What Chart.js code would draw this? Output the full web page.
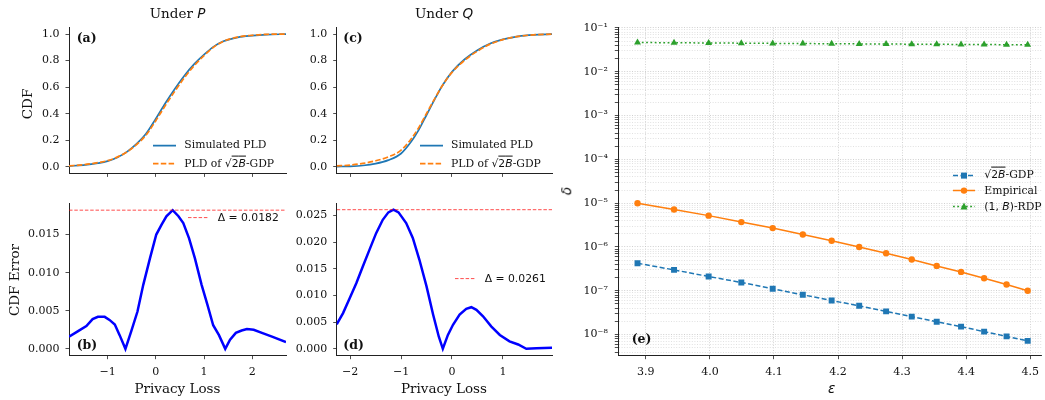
<!DOCTYPE html>
<html lang="en">
<head>
<meta charset="UTF-8">
<title>PLD CDF comparison</title>
<script src="https://cdn.jsdelivr.net/npm/chart.js@4.4.0/dist/chart.umd.min.js"></script>
<style>
  body { margin:0; background:white; font-family:"DejaVu Serif", serif; color:#111; }
  #fig { position:relative; width:1045px; height:400px; overflow:hidden; }
  .box { position:absolute; }
  .t { position:absolute; white-space:nowrap; transform:translate(-50%,-50%); line-height:1; font-size:13.5px; }
  .rot { transform:translate(-50%,-50%) rotate(-90deg); }
  .tag { position:absolute; font-weight:bold; font-size:12.5px; line-height:1; transform:translate(0,-50%); }
  .leg { position:absolute; font-size:10.8px; white-space:nowrap; line-height:1; transform:translate(0,-50%); display:flex; align-items:center; }
  .leg svg { display:block; }
  .m { font-family:"DejaVu Sans", sans-serif; }
  .ov { text-decoration:overline; }
</style>
</head>
<body>
<div id="fig">
  <div class="box" style="left:0;top:0"><canvas id="cA" width="290" height="186"></canvas></div>
  <div class="box" style="left:0;top:190px"><canvas id="cB" width="290" height="210"></canvas></div>
  <div class="box" style="left:290px;top:0"><canvas id="cC" width="265" height="186"></canvas></div>
  <div class="box" style="left:290px;top:190px"><canvas id="cD" width="265" height="210"></canvas></div>
  <div class="box" style="left:560px;top:0"><canvas id="cE" width="485" height="400"></canvas></div>

  <div class="t" style="left:177.5px;top:13.5px">Under <i class="m">P</i></div>
  <div class="t" style="left:444px;top:13.5px">Under <i class="m">Q</i></div>
  <div class="t rot" style="left:28px;top:104px">CDF</div>
  <div class="t rot" style="left:15px;top:280px">CDF Error</div>
  <div class="t rot m" style="left:567px;top:191px"><i>δ</i></div>
  <div class="t" style="left:177.5px;top:389px">Privacy Loss</div>
  <div class="t" style="left:444px;top:389px">Privacy Loss</div>
  <div class="t m" style="left:831.7px;top:389px"><i>ε</i></div>

  <div class="tag" style="left:76.7px;top:38.3px">(a)</div>
  <div class="tag" style="left:343.3px;top:38.3px">(c)</div>
  <div class="tag" style="left:76.7px;top:345px">(b)</div>
  <div class="tag" style="left:343.3px;top:345px">(d)</div>
  <div class="tag" style="left:631.7px;top:339px">(e)</div>

  <div class="leg" style="left:153.3px;top:145.3px"><svg width="23" height="10"><line x1="0" y1="5" x2="23" y2="5" stroke="#1f77b4" stroke-width="1.7"/></svg><span style="margin-left:8px">Simulated PLD</span></div>
  <div class="leg" style="left:153.3px;top:164px"><svg width="23" height="10"><line x1="0" y1="5" x2="23" y2="5" stroke="#ff7f0e" stroke-width="1.7" stroke-dasharray="5.5 2.3"/></svg><span style="margin-left:8px">PLD of <span class="m">√<span class="ov">2<i>B</i></span></span>-GDP</span></div>
  <div class="leg" style="left:420px;top:145.3px"><svg width="23" height="10"><line x1="0" y1="5" x2="23" y2="5" stroke="#1f77b4" stroke-width="1.7"/></svg><span style="margin-left:8px">Simulated PLD</span></div>
  <div class="leg" style="left:420px;top:164px"><svg width="23" height="10"><line x1="0" y1="5" x2="23" y2="5" stroke="#ff7f0e" stroke-width="1.7" stroke-dasharray="5.5 2.3"/></svg><span style="margin-left:8px">PLD of <span class="m">√<span class="ov">2<i>B</i></span></span>-GDP</span></div>
  <div class="leg m" style="left:187.7px;top:218px"><svg width="21" height="10"><line x1="0" y1="5" x2="21" y2="5" stroke="rgba(255,0,0,0.7)" stroke-width="1" stroke-dasharray="3.5 1.8"/></svg><span style="margin-left:9px">Δ = 0.0182</span></div>
  <div class="leg m" style="left:454.7px;top:278.7px"><svg width="21" height="10"><line x1="0" y1="5" x2="21" y2="5" stroke="rgba(255,0,0,0.7)" stroke-width="1" stroke-dasharray="3.5 1.8"/></svg><span style="margin-left:9px">Δ = 0.0261</span></div>

  <div class="leg" style="left:953.3px;top:175.3px"><svg width="22" height="10"><line x1="0" y1="5" x2="22" y2="5" stroke="#1f77b4" stroke-width="1.5" stroke-dasharray="5 2.5"/><rect x="8" y="2" width="6" height="6" fill="#1f77b4"/></svg><span style="margin-left:9px"><span class="m">√<span class="ov">2<i>B</i></span></span>-GDP</span></div>
  <div class="leg" style="left:953.3px;top:191px"><svg width="22" height="10"><line x1="0" y1="5" x2="22" y2="5" stroke="#ff7f0e" stroke-width="1.5"/><circle cx="11" cy="5" r="3.2" fill="#ff7f0e"/></svg><span style="margin-left:9px">Empirical</span></div>
  <div class="leg" style="left:953.3px;top:206.7px"><svg width="22" height="10"><line x1="0" y1="5" x2="22" y2="5" stroke="#2ca02c" stroke-width="1.5" stroke-dasharray="1.8 2.5"/><polygon points="11,1 14.5,8 7.5,8" fill="#2ca02c"/></svg><span style="margin-left:9px"><span class="m">(1, <i>B</i>)</span>-RDP</span></div>
</div>

<script>
// ---- data ----
// (a) CDF under P
const pX = [-1.8, -1.5, -1.2, -1.0, -0.8, -0.6, -0.4, -0.2, 0, 0.2, 0.4, 0.6, 0.8, 1.0, 1.2, 1.4, 1.7, 2.0, 2.3, 2.7];
const pSim = [0.005, 0.013, 0.027, 0.042, 0.07, 0.112, 0.172, 0.25, 0.362, 0.48, 0.59, 0.69, 0.775, 0.845, 0.905, 0.945, 0.975, 0.988, 0.996, 0.999];
const pGdp = [0.0066, 0.0158, 0.031, 0.046, 0.0725, 0.111, 0.1675, 0.2397, 0.347, 0.4628, 0.572, 0.6738, 0.763, 0.8375, 0.9018, 0.9447, 0.977, 0.9905, 0.9978, 0.9999];

// (c) CDF under Q
const qX = [-2.265, -2.0, -1.75, -1.5, -1.25, -1.0, -0.8, -0.65, -0.5, -0.35, -0.2, 0, 0.25, 0.5, 0.75, 1.0, 1.3, 1.6, 1.965];
const qSim = [0.0015, 0.0035, 0.0095, 0.0235, 0.05, 0.1, 0.19, 0.28, 0.39, 0.5, 0.605, 0.715, 0.81, 0.878, 0.928, 0.96, 0.983, 0.994, 0.999];
const qGdp = [0.006, 0.013, 0.025, 0.045, 0.075, 0.125, 0.211, 0.297, 0.402, 0.506, 0.605, 0.711, 0.803, 0.871, 0.924, 0.958, 0.982, 0.994, 0.999];

// (b) CDF error under P
const pErrX = [-1.8, -1.62, -1.44, -1.31, -1.2, -1.06, -0.96, -0.85, -0.75, -0.63, -0.51, -0.38, -0.26, -0.12, 0.01, 0.12, 0.22, 0.35, 0.47, 0.57, 0.69, 0.81, 0.95, 1.07, 1.19, 1.31, 1.44, 1.54, 1.66, 1.78, 1.89, 2.03, 2.2, 2.41, 2.7];
const pErr = [0.0016, 0.0023, 0.003, 0.0039, 0.0042, 0.0042, 0.0038, 0.0032, 0.0018, 0.0, 0.0023, 0.0049, 0.0084, 0.0119, 0.015, 0.0163, 0.0174, 0.0182, 0.0174, 0.0165, 0.0145, 0.0119, 0.0084, 0.0058, 0.0031, 0.0018, 0.0, 0.0012, 0.0021, 0.0024, 0.0026, 0.0025, 0.0021, 0.0016, 0.0009];
const pDelta = 0.0182;

// (d) CDF error under Q
const qErrX = [-2.265, -2.14, -2.01, -1.88, -1.75, -1.62, -1.49, -1.36, -1.25, -1.15, -1.05, -0.9, -0.77, -0.64, -0.5, -0.37, -0.26, -0.18, -0.08, 0.02, 0.15, 0.28, 0.38, 0.48, 0.61, 0.77, 0.94, 1.13, 1.3, 1.46, 1.66, 1.965];
const qErr = [0.0046, 0.0067, 0.0095, 0.0123, 0.0155, 0.0186, 0.0217, 0.0242, 0.0256, 0.0261, 0.0256, 0.0236, 0.0208, 0.0167, 0.0117, 0.0064, 0.0023, 0.0, 0.0026, 0.0045, 0.0064, 0.0075, 0.0078, 0.0073, 0.0061, 0.0042, 0.0026, 0.0014, 0.0008, 0.0, 0.0001, 0.0002];
const qDelta = 0.0261;

// (e) delta vs epsilon
const eps = [3.887, 3.944, 3.998, 4.049, 4.098, 4.145, 4.190, 4.233, 4.275, 4.315, 4.354, 4.392, 4.428, 4.463, 4.496];
const deltaGdp = [4.26e-7, 3.0e-7, 2.12e-7, 1.55e-7, 1.11e-7, 8.1e-8, 6.0e-8, 4.55e-8, 3.39e-8, 2.57e-8, 1.97e-8, 1.52e-8, 1.17e-8, 9.1e-9, 7.2e-9];
const deltaEmp = [1.0e-5, 7.2e-6, 5.2e-6, 3.7e-6, 2.7e-6, 1.93e-6, 1.39e-6, 1.0e-6, 7.2e-7, 5.2e-7, 3.7e-7, 2.7e-7, 1.93e-7, 1.39e-7, 1.0e-7];
const deltaRdp = [0.0466, 0.046, 0.0455, 0.045, 0.0445, 0.0441, 0.0437, 0.0433, 0.043, 0.0427, 0.0424, 0.0421, 0.0418, 0.0416, 0.0413];

// tick values
const xTicksP = [-1, 0, 1, 2];
const xTicksQ = [-2, -1, 0, 1];
const yTicksCdf = [0, 0.2, 0.4, 0.6, 0.8, 1.0];
const yTicksErrP = [0, 0.005, 0.010, 0.015];
const yTicksErrQ = [0, 0.005, 0.010, 0.015, 0.020, 0.025];
const xTicksE = [3.9, 4.0, 4.1, 4.2, 4.3, 4.4, 4.5];
const yExpE = [-9, -8, -7, -6, -5, -4, -3, -2, -1];
const minorMult = [1, 2, 3, 4, 5, 6, 7, 8, 9];

const BLUE = '#1f77b4', ORANGE = '#ff7f0e', GREEN = '#2ca02c';

Chart.defaults.font.family = '"DejaVu Serif", serif';
Chart.defaults.font.size = 11;
Chart.defaults.color = '#111';

const pts = (xs, ys) => xs.map((x, i) => ({ x: x, y: ys[i] }));
const minus = s => String(s).replace('-', '\u2212');
const SUP = { '-': '\u207b', '0': '\u2070', '1': '\u00b9', '2': '\u00b2', '3': '\u00b3', '4': '\u2074', '5': '\u2075', '6': '\u2076', '7': '\u2077', '8': '\u2078', '9': '\u2079' };

function panel(id, datasets, o) {
    return new Chart(document.getElementById(id), {
        type: 'line',
        data: { datasets: datasets },
        options: {
            animation: false,
            responsive: false,
            devicePixelRatio: 1,
            layout: { autoPadding: false, padding: { top: o.padT, right: o.padR, left: 0, bottom: 0 } },
            plugins: { legend: { display: false }, tooltip: { enabled: false } },
            elements: { point: { radius: 0 }, line: { borderCapStyle: 'butt' } },
            scales: {
                x: {
                    type: 'linear', min: o.xMin, max: o.xMax,
                    afterFit: s => { s.height = o.xH; },
                    afterBuildTicks: s => { s.ticks = o.xTicks.map(v => ({ value: v })); },
                    ticks: { display: o.xLabels, autoSkip: false, maxRotation: 0, padding: 6, callback: v => minus(v) },
                    grid: { drawOnChartArea: false, tickLength: 3.5, tickColor: '#222', tickWidth: 0.8 },
                    border: { color: '#222', width: 1 }
                },
                y: {
                    type: 'linear', min: o.yMin, max: o.yMax,
                    afterFit: s => { s.width = o.yW; },
                    afterBuildTicks: s => { s.ticks = o.yTicks.map(v => ({ value: v })); },
                    ticks: { autoSkip: false, padding: 6, callback: v => v.toFixed(o.yDec) },
                    grid: { drawOnChartArea: false, tickLength: 3.5, tickColor: '#222', tickWidth: 0.8 },
                    border: { color: '#222', width: 1 }
                }
            }
        }
    });
}

const cdfSets = (xs, sim, gdp) => [
    { label: 'PLD of sqrt(2B)-GDP', data: pts(xs, gdp), borderColor: ORANGE, borderWidth: 1.7, borderDash: [5.5, 2.3], cubicInterpolationMode: 'monotone' },
    { label: 'Simulated PLD', data: pts(xs, sim), borderColor: BLUE, borderWidth: 1.7, cubicInterpolationMode: 'monotone' }
];
const errSets = (xs, err, d, x0, x1, txt) => [
    { label: txt, data: pts([x0, x1], [d, d]), borderColor: 'rgba(255,0,0,0.7)', borderWidth: 1, borderDash: [3.5, 1.8] },
    { label: 'CDF error', data: pts(xs, err), borderColor: '#0000ff', borderWidth: 2.5, tension: 0 }
];

panel('cA', cdfSets(pX, pSim, pGdp), { padT: 27.4, padR: 4, xH: 6.4, yW: 69, xMin: -1.8, xMax: 2.7, yMin: -0.05, yMax: 1.05, xTicks: xTicksP, yTicks: yTicksCdf, yDec: 1, xLabels: false });
panel('cB', errSets(pErrX, pErr, pDelta, -1.8, 2.7, 'Δ = 0.0182'), { padT: 13.3, padR: 4, xH: 44.3, yW: 69, xMin: -1.8, xMax: 2.7, yMin: -0.0009, yMax: 0.0191, xTicks: xTicksP, yTicks: yTicksErrP, yDec: 3, xLabels: true });
panel('cC', cdfSets(qX, qSim, qGdp), { padT: 27.4, padR: 3, xH: 6.4, yW: 46.7, xMin: -2.265, xMax: 1.965, yMin: -0.05, yMax: 1.05, xTicks: xTicksQ, yTicks: yTicksCdf, yDec: 1, xLabels: false });
panel('cD', errSets(qErrX, qErr, qDelta, -2.265, 1.965, 'Δ = 0.0261'), { padT: 13.3, padR: 3, xH: 44.3, yW: 46.7, xMin: -2.265, xMax: 1.965, yMin: -0.0013, yMax: 0.0273, xTicks: xTicksQ, yTicks: yTicksErrQ, yDec: 3, xLabels: true });

// (e) log-scale panel
const yMinE = 3.3e-9, yMaxE = 0.102;
const yTicksE = [];
yExpE.forEach(e => minorMult.forEach(m => {
    const v = m * Math.pow(10, e);
    if (v >= yMinE && v <= yMaxE) yTicksE.push({ value: v, major: m === 1, exp: e });
}));

new Chart(document.getElementById('cE'), {
    type: 'line',
    data: {
        datasets: [
            { label: 'sqrt(2B)-GDP', data: pts(eps, deltaGdp), borderColor: BLUE, backgroundColor: BLUE, borderWidth: 1.5, borderDash: [5, 2.5],
              pointStyle: 'rect', pointRadius: 4.2, pointBorderWidth: 0, pointBackgroundColor: BLUE },
            { label: 'Empirical', data: pts(eps, deltaEmp), borderColor: ORANGE, backgroundColor: ORANGE, borderWidth: 1.5,
              pointStyle: 'circle', pointRadius: 3.2, pointBorderWidth: 0, pointBackgroundColor: ORANGE },
            { label: '(1, B)-RDP', data: pts(eps, deltaRdp), borderColor: GREEN, backgroundColor: GREEN, borderWidth: 1.5, borderDash: [1.8, 2.5],
              pointStyle: 'triangle', pointRadius: 4, pointBorderWidth: 0, pointBackgroundColor: GREEN }
        ]
    },
    options: {
        animation: false,
        responsive: false,
        devicePixelRatio: 1,
        layout: { autoPadding: false, padding: { top: 27.6, right: 0, left: 0, bottom: 0 } },
        plugins: { legend: { display: false }, tooltip: { enabled: false } },
        scales: {
            x: {
                type: 'linear', min: 3.857, max: 4.518,
                afterFit: s => { s.height = 44.3; },
                afterBuildTicks: s => { s.ticks = xTicksE.map(v => ({ value: v, major: true })); },
                ticks: { autoSkip: false, maxRotation: 0, padding: 6, callback: v => v.toFixed(1) },
                grid: { color: '#c8c8c8', lineWidth: 0.8, tickLength: 3.5, tickColor: '#222', tickWidth: 0.8 },
                border: { color: '#222', width: 1, dash: [1, 1.6] }
            },
            y: {
                type: 'logarithmic', min: yMinE, max: yMaxE,
                afterFit: s => { s.width = 58.3; },
                afterBuildTicks: s => { s.ticks = yTicksE.map(t => ({ value: t.value, major: t.major })); },
                ticks: {
                    autoSkip: false, padding: 7,
                    callback: (v, i) => {
                        const t = yTicksE[i];
                        if (!t || !t.major) return '';
                        return '10' + String(t.exp).split('').map(c => SUP[c]).join('');
                    }
                },
                grid: { color: c => (c.tick && c.tick.major) ? '#c4c4c4' : '#d9d9d9', lineWidth: 0.8, tickLength: 3.5, tickColor: '#222', tickWidth: 0.8 },
                border: { color: '#222', width: 1, dash: [1, 1.6] }
            }
        }
    }
});
</script>
</body>
</html>
